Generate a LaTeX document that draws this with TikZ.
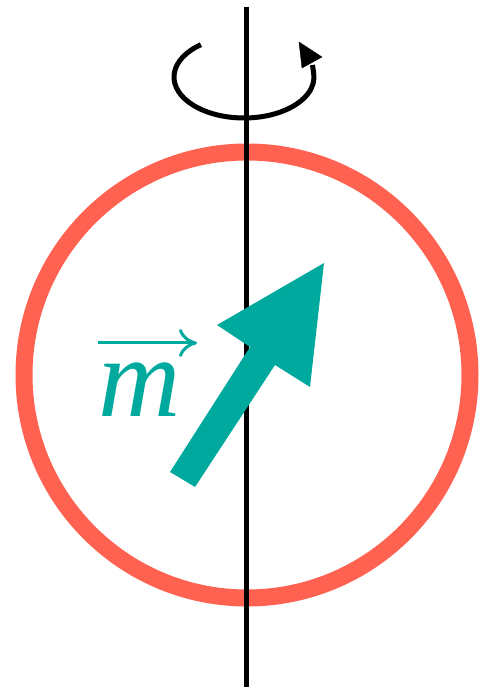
\documentclass[tikz,border=0pt]{standalone}
\usepackage{fontspec}
\usepackage{tikz}
\usetikzlibrary{arrows.meta}
\newfontfamily\labelfont{Liberation Serif}
\definecolor{ringred}{RGB}{255,98,80}
\definecolor{momteal}{RGB}{0,169,157}

\begin{document}
\begin{tikzpicture}[x=1pt,y=1pt]
    \useasboundingbox (0,0) rectangle (482,689);
    \coordinate (ctr) at (247,314);
    \coordinate (axtop) at (246.7,682);
    \coordinate (axbot) at (246.7,2);
    \coordinate (spin) at (244,612);

    \draw[line width=17pt,ringred] (ctr) circle[radius=223];
    \draw[line width=4.5pt,black] (axtop) -- (axbot);

    \draw[line width=5pt,black]
        ([shift={(128:70 and 41)}]spin) arc[start angle=128,end angle=366,x radius=70,y radius=41]
        -- (312.5,624);
    \filldraw[black] (299,647) -- (322,632) -- (302,621) -- cycle;

    \fill[momteal]
        (170,217) -- (250,342) -- (217,364) -- (324,426)
        -- (310,302) -- (275,324) -- (195,202) -- cycle;

    \node[anchor=base,inner sep=0pt,text=momteal] (mlabel) at (140,272)
        {\labelfont\itshape\fontsize{114}{114}\selectfont m};
    \coordinate (vecstart) at (98,346);
    \coordinate (vecend) at (197,346);
    \draw[line width=3pt,momteal,-{To[length=18pt,width=28pt]}] (vecstart) -- (vecend);
\end{tikzpicture}
\end{document}
